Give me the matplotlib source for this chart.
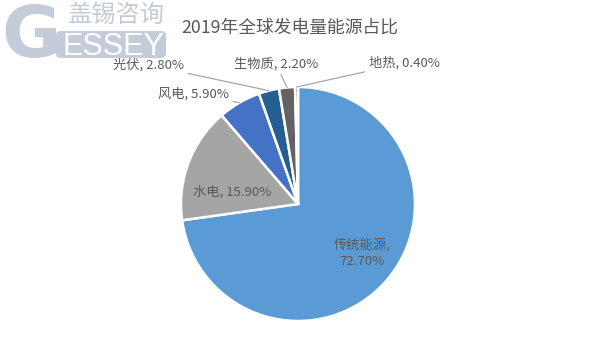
import numpy as np
import matplotlib
matplotlib.use("Agg")
import matplotlib.pyplot as plt
from matplotlib.patches import FancyBboxPatch

plt.rcParams['font.family'] = ['Noto Sans CJK SC', 'DejaVu Sans']

# data
names = ["传统能源", "水电", "风电", "光伏", "生物质", "地热"]
shares = [72.70, 15.90, 5.90, 2.80, 2.20, 0.40]
colors = ["#5B9BD5", "#A5A5A5", "#4472C4", "#255E91", "#636363", "#264478"]
title = "2019年全球发电量能源占比"

txt_col = "#595959"
line_col = "#A6A6A6"

fig = plt.figure(figsize=(6, 3.6), dpi=100)
ax = fig.add_axes([0, 0, 1, 1])
# pie centre at pixel (298, 204), radius 117 px
cx, cy, R = 298, 204, 117

# --- watermark (drawn first, behind everything) ---
wm = "#C3CCD8"
band = FancyBboxPatch((56 / 600, 1 - 58 / 360), 110 / 600, 27 / 360,
                      boxstyle="round,pad=0,rounding_size=0.01",
                      transform=fig.transFigure, fc=wm, ec="none", zorder=0)
fig.patches.append(band)
fig.text(1 / 600, 1 - 57 / 360, "G", fontsize=52, fontweight="bold",
         family="DejaVu Sans", color=wm, ha="left", va="baseline", zorder=1)
fig.text(113 / 600, 1 - 55 / 360, "ESSEY", fontsize=22, color="white",
         family="Liberation Sans", ha="center", va="baseline", zorder=1)
fig.text(116 / 600, 1 - 15 / 360, "盖锡咨询", fontsize=17.5, color=wm,
         ha="center", va="center", zorder=1)

# --- pie ---
wedges, _ = ax.pie(shares, colors=colors, startangle=90, counterclock=False,
                   radius=1, center=(0, 0), frame=True,
                   wedgeprops=dict(edgecolor="white", linewidth=1.8))
ax.set_xlim(-cx / R, (600 - cx) / R)
ax.set_ylim(-(360 - cy) / R, cy / R)
ax.axis("off")

# mid-angle of each wedge
frac = np.array(shares) / sum(shares)
cum = np.cumsum(frac) - frac / 2
mid = np.deg2rad(90 - cum * 360)

def px(x, y):
    return ((x - cx) / R, (cy - y) / R)

lab = [f"{n}, {v:.2f}%" for n, v in zip(names, shares)]

# inside labels
ax.text(*px(362, 253), "传统能源,\n72.70%", color=txt_col, fontsize=9.5,
        ha="center", va="center", linespacing=1.3)
ax.text(*px(232, 192), lab[1], color=txt_col, fontsize=9.5, ha="center", va="center")

# outside labels with leader lines
outside = {2: (px(229, 94), "right"), 3: (px(184, 65), "right"),
           4: (px(276, 64), "center"), 5: (px(369, 63), "left")}
for i, (pos, ha) in outside.items():
    tip = (np.cos(mid[i]), np.sin(mid[i]))
    ax.annotate(lab[i], xy=tip, xytext=pos, color=txt_col, fontsize=9.5,
                ha=ha, va="center",
                arrowprops=dict(arrowstyle="-", color=line_col, lw=0.9,
                                shrinkA=1, shrinkB=0))

fig.text(290 / 600, 1 - 28 / 360, title, fontsize=12.8, color=txt_col,
         ha="center", va="center")

fig.savefig("out.png", dpi=100, facecolor="white")
